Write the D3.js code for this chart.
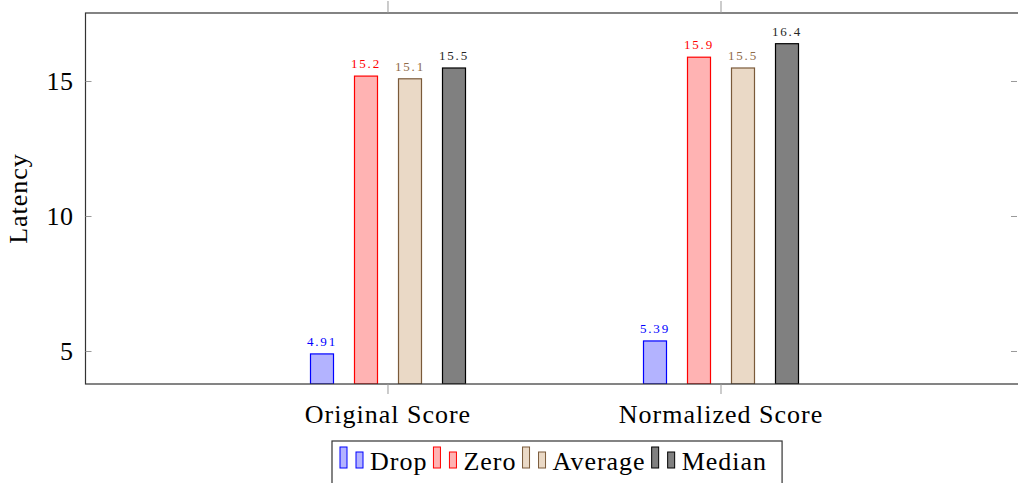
<!DOCTYPE html>
<html>
<head>
<meta charset="utf-8">
<script src="https://cdn.jsdelivr.net/npm/d3@7"></script>
<style>
  body { margin: 0; background: #fff; }
  svg { display: block; font-family: "Liberation Serif", "Times New Roman", serif; }
</style>
</head>
<body>
<div id="chart"></div>
<script>
// chart data
var categories = ["Original Score", "Normalized Score"];
var seriesNames = ["Drop", "Zero", "Average", "Median"];
var dropValues = [4.91, 5.39];
var zeroValues = [15.2, 15.9];
var averageValues = [15.1, 15.5];
var medianValues = [15.5, 16.4];
var yTickValues = [5, 10, 15];

(function() {
  var seriesValues = [dropValues, zeroValues, averageValues, medianValues];
  var fills = ["#b3b3ff", "#ffb3b3", "#ead9c6", "#808080"];
  var strokes = ["#0000ff", "#ff0000", "#7a5a3a", "#000000"];
  var labelColors = ["#0000ff", "#ff0000", "#8f6b48", "#262626"];

  var width = 1018, height = 483;
  var pLeft = 85.5, pTop = 13, pBottom = 384, pRight = 1023.5;

  var svg = d3.select("#chart").append("svg")
      .attr("width", width)
      .attr("height", height);

  var y = d3.scaleLinear().domain([3.796, 17.537]).range([pBottom, pTop]);
  var x = d3.scalePoint().domain(categories).range([pLeft, pRight]).padding(0.9084);
  var xs = d3.scalePoint().domain(seriesNames).range([-66, 66]);
  var barW = 23;

  svg.append("clipPath").attr("id", "plot")
    .append("rect")
      .attr("x", pLeft).attr("y", pTop)
      .attr("width", pRight - pLeft).attr("height", pBottom - pTop);

  var plot = svg.append("g").attr("clip-path", "url(#plot)");

  seriesNames.forEach(function(s, i) {
    var g = plot.append("g");
    g.selectAll("rect")
        .data(seriesValues[i])
      .enter().append("rect")
        .attr("x", function(d, j) { return x(categories[j]) + xs(s) - barW / 2; })
        .attr("y", function(d) { return y(d); })
        .attr("width", barW)
        .attr("height", function(d) { return pBottom - y(d); })
        .attr("fill", fills[i])
        .attr("stroke", strokes[i])
        .attr("stroke-width", 1.2);
    g.selectAll("text")
        .data(seriesValues[i])
      .enter().append("text")
        .attr("x", function(d, j) { return x(categories[j]) + xs(s); })
        .attr("y", function(d) { return y(d) - 8; })
        .attr("text-anchor", "middle")
        .attr("font-size", 13)
        .attr("letter-spacing", 1.8)
        .attr("fill", labelColors[i])
        .text(function(d) { return d; });
  });

  // axis frame
  svg.append("rect")
      .attr("x", pLeft).attr("y", pTop)
      .attr("width", pRight - pLeft).attr("height", pBottom - pTop)
      .attr("fill", "none")
      .attr("stroke", "#333")
      .attr("stroke-width", 1.2);

  // y ticks (inward, both sides)
  var yAxis = svg.append("g");
  yTickValues.forEach(function(t) {
    yAxis.append("line")
        .attr("x1", pLeft).attr("x2", pLeft + 6)
        .attr("y1", y(t)).attr("y2", y(t))
        .attr("stroke", "#999");
    yAxis.append("line")
        .attr("x1", 1011).attr("x2", 1017)
        .attr("y1", y(t)).attr("y2", y(t))
        .attr("stroke", "#999");
    yAxis.append("text")
        .attr("x", pLeft - 12)
        .attr("y", y(t))
        .attr("dy", "0.33em")
        .attr("text-anchor", "end")
        .attr("font-size", 26)
        .attr("letter-spacing", 0.5)
        .text(t);
  });

  // x ticks (outward, top and bottom)
  var xAxis = svg.append("g");
  categories.forEach(function(c) {
    xAxis.append("line")
        .attr("x1", x(c)).attr("x2", x(c))
        .attr("y1", pBottom).attr("y2", pBottom + 10)
        .attr("stroke", "#999");
    xAxis.append("line")
        .attr("x1", x(c)).attr("x2", x(c))
        .attr("y1", pTop).attr("y2", pTop - 12)
        .attr("stroke", "#999");
    xAxis.append("text")
        .attr("x", x(c))
        .attr("y", 423)
        .attr("text-anchor", "middle")
        .attr("font-size", 26)
        .attr("letter-spacing", 1)
        .text(c);
  });

  svg.append("text")
      .attr("transform", "translate(27," + ((pTop + pBottom) / 2) + ") rotate(-90)")
      .attr("text-anchor", "middle")
      .attr("font-size", 26)
      .attr("letter-spacing", 1)
      .text("Latency");

  // legend
  var legend = svg.append("g");
  var box = legend.append("rect")
      .attr("y", 441)
      .attr("height", 60)
      .attr("fill", "#fff")
      .attr("stroke", "#333")
      .attr("stroke-width", 1.2);
  var lx = 340;
  seriesNames.forEach(function(s, i) {
    legend.append("rect")
        .attr("x", lx).attr("y", 447)
        .attr("width", 7).attr("height", 21)
        .attr("fill", fills[i]).attr("stroke", strokes[i]);
    legend.append("rect")
        .attr("x", lx + 16).attr("y", 452)
        .attr("width", 7).attr("height", 16)
        .attr("fill", fills[i]).attr("stroke", strokes[i]);
    var t = legend.append("text")
        .attr("x", lx + 30)
        .attr("y", 470)
        .attr("font-size", 26)
        .attr("letter-spacing", 1)
        .text(s);
    lx = lx + 30 + t.node().getComputedTextLength() + 6;
  });
  box.attr("x", 332).attr("width", lx + 9 - 332);
})();
</script>
</body>
</html>
